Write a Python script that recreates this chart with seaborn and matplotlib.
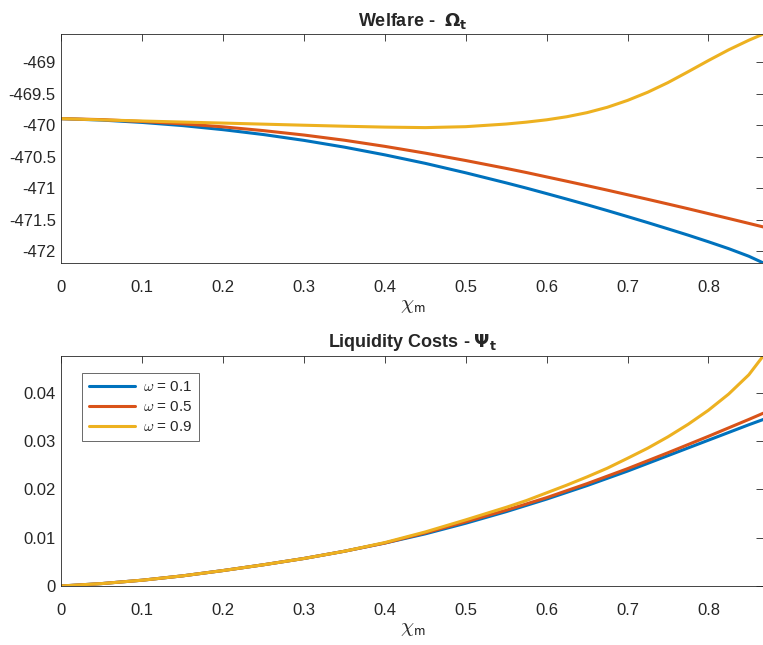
import numpy as np
import pandas as pd
import matplotlib
matplotlib.use("Agg")
import matplotlib.pyplot as plt
import seaborn as sns
from matplotlib.ticker import FuncFormatter

# ---- data ----
chi_m = [0.00, 0.05, 0.10, 0.15, 0.20, 0.25, 0.30, 0.35, 0.40, 0.45, 0.50, 0.55,
         0.575, 0.60, 0.625, 0.65, 0.675, 0.70, 0.725, 0.75, 0.775, 0.80, 0.825,
         0.85, 0.868]

welfare_w01 = [-469.893, -469.9155, -469.953, -470.003, -470.068, -470.1455, -470.238,
               -470.3455, -470.468, -470.603, -470.753, -470.913, -470.996, -471.083,
               -471.171, -471.2605, -471.353, -471.448, -471.544, -471.643, -471.743,
               -471.848, -471.957, -472.078, -472.185]
welfare_w05 = [-469.893, -469.908, -469.938, -469.9755, -470.023, -470.083, -470.153,
               -470.2355, -470.333, -470.4405, -470.558, -470.683, -470.7485, -470.818,
               -470.887, -470.957, -471.028, -471.101, -471.174, -471.2485, -471.3235,
               -471.401, -471.478, -471.556, -471.613]
welfare_w09 = [-469.893, -469.912, -469.930, -469.947, -469.963, -469.980, -469.997,
               -470.013, -470.027, -470.035, -470.020, -469.978, -469.948, -469.911,
               -469.862, -469.797, -469.712, -469.603, -469.473, -469.320, -469.147,
               -468.970, -468.800, -468.647, -468.548]

liq_w01 = [0.0, 0.0005, 0.0012, 0.0021, 0.0032, 0.0044, 0.0057, 0.0072, 0.0089, 0.0108,
           0.0130, 0.0154, 0.0167, 0.0180, 0.0194, 0.0208, 0.0223, 0.0238, 0.0254,
           0.0270, 0.0286, 0.0302, 0.0318, 0.0334, 0.0345]
liq_w05 = [0.0, 0.0005, 0.0012, 0.0021, 0.0032, 0.0044, 0.0057, 0.0072, 0.0089, 0.0110,
           0.0133, 0.0157, 0.0170, 0.0183, 0.01975, 0.0212, 0.02275, 0.0243, 0.02595,
           0.0276, 0.0293, 0.0310, 0.03275, 0.0345, 0.0358]
liq_w09 = [0.0, 0.0005, 0.0012, 0.0021, 0.0032, 0.0044, 0.0057, 0.0072, 0.0090, 0.0112,
           0.0137, 0.0163, 0.0177, 0.0193, 0.0209, 0.0226, 0.0244, 0.02645, 0.02855,
           0.0309, 0.0335, 0.0364, 0.03975, 0.04375, 0.0477]

omega_labels = [r"$\omega$ = 0.1", r"$\omega$ = 0.5", r"$\omega$ = 0.9"]
colors = ["#0072BD", "#D95319", "#EDB120"]

xticks = [0, 0.1, 0.2, 0.3, 0.4, 0.5, 0.6, 0.7, 0.8]
yticks_top = [-472, -471.5, -471, -470.5, -470, -469.5, -469]
yticks_bot = [0, 0.01, 0.02, 0.03, 0.04]

# ---- long tables ----
def long_df(series):
    rows = []
    for lab, vals in zip(omega_labels, series):
        for x, v in zip(chi_m, vals):
            rows.append({"chi": x, "val": v, "omega": lab})
    return pd.DataFrame(rows)

df_w = long_df([welfare_w01, welfare_w05, welfare_w09])
df_l = long_df([liq_w01, liq_w05, liq_w09])

sns.set_style("white")
plt.rcParams["font.family"] = ["Liberation Sans", "DejaVu Sans"]
plt.rcParams["axes.unicode_minus"] = False
plt.rcParams["mathtext.fontset"] = "dejavusans"

fig = plt.figure(figsize=(7.63, 6.45), dpi=100)
ax1 = fig.add_axes([0.0805, 0.5918, 0.9200, 0.3555])
ax2 = fig.add_axes([0.0805, 0.0915, 0.9200, 0.3570])

pal = dict(zip(omega_labels, colors))
sns.lineplot(data=df_w, x="chi", y="val", hue="omega", palette=pal, ax=ax1,
             linewidth=2.2, legend=False, estimator=None, sort=False)
sns.lineplot(data=df_l, x="chi", y="val", hue="omega", palette=pal, ax=ax2,
             linewidth=2.2, estimator=None, sort=False)

fmt = FuncFormatter(lambda v, p: "%g" % v)
for ax in (ax1, ax2):
    ax.set_xlim(0, 0.868)
    ax.set_xticks(xticks)
    ax.xaxis.set_major_formatter(fmt)
    ax.yaxis.set_major_formatter(fmt)
    ax.tick_params(direction="in", length=5, width=0.6, top=True, right=True,
                   labelsize=12, colors="#262626")
    ax.tick_params(axis="x", pad=12)
    ax.tick_params(axis="y", pad=4)
    for s in ax.spines.values():
        s.set_color("#262626")
        s.set_linewidth(0.6)
    ax.set_xlabel(r"$\chi_{\mathsf{m}}$", fontsize=15, color="#262626", labelpad=1,
                  math_fontfamily="cm")
    ax.set_ylabel("")

ax1.set_ylim(-472.19, -468.548)
ax1.set_yticks(yticks_top)
ax2.set_ylim(0, 0.0477)
ax2.set_yticks(yticks_bot)

ax1.set_title(r"Welfare -  $\mathbf{\Omega_t}$", fontsize=13, fontweight="bold", pad=6)
ax2.set_title(r"Liquidity Costs - $\mathbf{\Psi_t}$", fontsize=13, fontweight="bold", pad=6)

leg = ax2.legend(loc="upper left", bbox_to_anchor=(0.03, 0.925), borderaxespad=0,
                 frameon=True, fancybox=False, edgecolor="#262626", fontsize=11,
                 handlelength=3.0, borderpad=0.45, labelspacing=0.4, handletextpad=0.5)
leg.get_frame().set_linewidth(0.6)
leg.set_title(None)
for t in leg.get_texts():
    t.set_math_fontfamily("cm")
    t.set_color("#262626")

fig.savefig("out.png", dpi=100)
